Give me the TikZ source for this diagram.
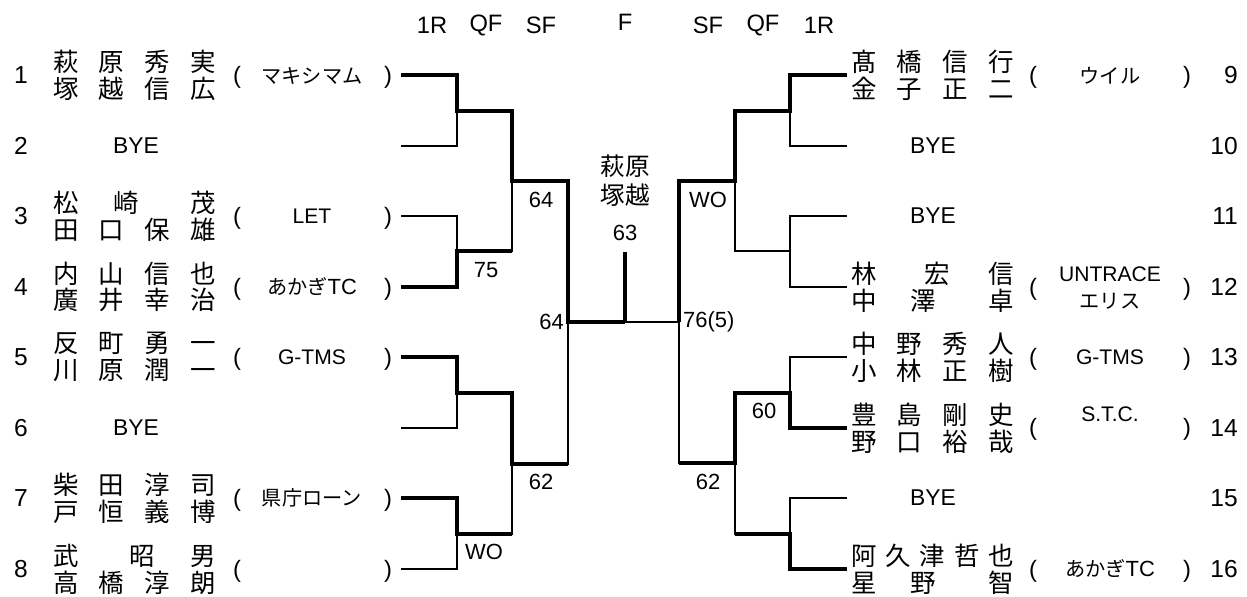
\documentclass[tikz,border=0pt]{standalone}
\usepackage{fontspec}
\setmainfont{Liberation Sans}
\newfontfamily\jp{Noto Sans CJK JP}
\usetikzlibrary{positioning}

\newcommand{\pn}[1]{\makebox[3.26cm][s]{#1}}
\newcommand{\gap}[1]{\hspace{\stretch{#1}}}

\begin{document}
\begin{tikzpicture}[
    x=0.02cm, y=-0.02cm,
    seed/.style={font=\fontsize{14}{16}\selectfont},
    player/.style={font=\jp\fontsize{14.5}{15.3}\selectfont, align=center, inner sep=0pt},
    club/.style={font=\fontsize{12}{15}\selectfont, align=center, inner sep=0pt},
    jclub/.style={font=\jp\fontsize{11.5}{15}\selectfont, align=center, inner sep=0pt},
    paren/.style={font=\fontsize{13.5}{15}\selectfont, inner sep=0pt},
    bye/.style={font=\fontsize{13}{15}\selectfont},
    hdr/.style={font=\fontsize{13.5}{15}\selectfont},
    score/.style={font=\fontsize{12.5}{14}\selectfont, inner sep=1pt},
    lose/.style={line width=0.9pt},
    win/.style={line width=2.3pt},
]
\useasboundingbox (0,0) rectangle (1247,597);

% round headers
\foreach \t/\x [count=\i] in {1R/432, QF/486, SF/541, SF/708, QF/763, 1R/819}
  \node[hdr] (h\i) at (\x,25) {\t};
\node[hdr] (hf) at (625,22) {F};

% seed numbers
\foreach \n/\y in {1/75, 2/146, 3/216, 4/287, 5/357, 6/428, 7/498, 8/569}
  \node[seed] (s\n) at (21,\y) {\n};
\foreach \n/\y in {9/75, 10/146, 11/216, 12/287, 13/357, 14/428, 15/498, 16/569}
  \node[seed, anchor=east] (s\n) at (1244,\y) {\n};

% left players
\node[player] (p1) at (134.5,75)  {\pn{萩\hfill 原\hfill 秀\hfill 実}\\\pn{塚\hfill 越\hfill 信\hfill 広}};
\node[bye]    (p2) at (136,146)   {BYE};
\node[player] (p3) at (134.5,216) {\pn{松\gap{37}崎\gap{54}茂}\\\pn{田\hfill 口\hfill 保\hfill 雄}};
\node[player] (p4) at (134.5,287) {\pn{内\hfill 山\hfill 信\hfill 也}\\\pn{廣\hfill 井\hfill 幸\hfill 治}};
\node[player] (p5) at (134.5,357) {\pn{反\hfill 町\hfill 勇\hfill 一}\\\pn{川\hfill 原\hfill 潤\hfill 一}};
\node[bye]    (p6) at (136,428)   {BYE};
\node[player] (p7) at (134.5,498) {\pn{柴\hfill 田\hfill 淳\hfill 司}\\\pn{戸\hfill 恒\hfill 義\hfill 博}};
\node[player] (p8) at (134.5,569) {\pn{武\gap{54}昭\gap{37}男}\\\pn{高\hfill 橋\hfill 淳\hfill 朗}};

% right players
\node[player] (p9)  at (932.5,75)  {\pn{髙\hfill 橋\hfill 信\hfill 行}\\\pn{金\hfill 子\hfill 正\hfill 二}};
\node[bye]    (p10) at (933,146)   {BYE};
\node[bye]    (p11) at (933,216)   {BYE};
\node[player] (p12) at (932.5,287) {\pn{林\gap{50}宏\gap{41}信}\\\pn{中\gap{36}澤\gap{55}卓}};
\node[player] (p13) at (932.5,357) {\pn{中\hfill 野\hfill 秀\hfill 人}\\\pn{小\hfill 林\hfill 正\hfill 樹}};
\node[player] (p14) at (932.5,428) {\pn{豊\hfill 島\hfill 剛\hfill 史}\\\pn{野\hfill 口\hfill 裕\hfill 哉}};
\node[bye]    (p15) at (933,498)   {BYE};
\node[player] (p16) at (932.5,569) {\pn{阿\hfill 久\hfill 津\hfill 哲\hfill 也}\\\pn{星\gap{36}野\gap{55}智}};

% clubs with brackets
\foreach \n/\y in {1/77, 3/218, 4/289, 5/359, 7/500, 8/571} {
  \node[paren] (l\n) at (237,\y) {(};
  \node[paren] (r\n) at (388,\y) {)};
}
\foreach \n/\y in {9/77, 12/289, 13/359, 14/429, 16/571} {
  \node[paren] (l\n) at (1033,\y) {(};
  \node[paren] (r\n) at (1187,\y) {)};
}
\node[jclub] (c1)  at (312,76)   {マキシマム};
\node[club]  (c3)  at (312,216)  {LET};
\node[jclub] (c4)  at (312,287)  {あかぎ{\rmfamily\fontsize{12.5}{15}\selectfont TC}};
\node[club]  (c5)  at (312,357)  {G-TMS};
\node[jclub] (c7)  at (312,498)  {県庁ローン};
\node[jclub] (c9)  at (1110,76)  {ウイル};
\node[club]  (c12) at (1110,288) {UNTRACE\\{\jp\fontsize{11.5}{15}\selectfont エリス}};
\node[club]  (c13) at (1110,357) {G-TMS};
\node[club]  (c14) at (1110,414) {S.T.C.};
\node[jclub] (c16) at (1110,569) {あかぎ{\rmfamily\fontsize{12.5}{15}\selectfont TC}};

% bracket points
\foreach \n/\y in {1/75, 2/146, 3/216, 4/287, 5/357, 6/428, 7/498, 8/569}
  \coordinate (e\n) at (401,\y);
\foreach \n/\y in {9/75, 10/146, 11/216, 12/287, 13/357, 14/428, 15/498, 16/569}
  \coordinate (e\n) at (847,\y);
\coordinate (a1) at (457,111); \coordinate (a2) at (457,251);
\coordinate (a3) at (457,393); \coordinate (a4) at (457,534);
\coordinate (b1) at (512,181); \coordinate (b2) at (512,464);
\coordinate (c1) at (568,322);
\coordinate (f)  at (625,322); \coordinate (ft) at (625,252);
\coordinate (c2) at (679,322);
\coordinate (b3) at (735,181); \coordinate (b4) at (735,463);
\coordinate (a5) at (790,111); \coordinate (a6) at (790,251);
\coordinate (a7) at (790,393); \coordinate (a8) at (790,534);

% thin frame
\draw[lose] (e1) -| (a1) |- (e2);
\draw[lose] (e3) -| (a2) |- (e4);
\draw[lose] (e5) -| (a3) |- (e6);
\draw[lose] (e7) -| (a4) |- (e8);
\draw[lose] (a1) -| (b1) |- (a2);
\draw[lose] (a3) -| (b2) |- (a4);
\draw[lose] (b1) -| (c1) |- (b2);
\draw[lose] (c1) -- (f) -- (c2);
\draw[lose] (e9) -| (a5) |- (e10);
\draw[lose] (e11) -| (a6) |- (e12);
\draw[lose] (e13) -| (a7) |- (e14);
\draw[lose] (e15) -| (a8) |- (e16);
\draw[lose] (a5) -| (b3) |- (a6);
\draw[lose] (a7) -| (b4) |- (a8);
\draw[lose] (b3) -| (c2) |- (b4);

% winners
\draw[win] (e1) -| (a1) -| (b1) -| (c1) -- (f);
\draw[win] (e4) -| (a2) -- (a2 -| b1);
\draw[win] (e5) -| (a3) -| (b2) -- (b2 -| c1);
\draw[win] (e7) -| (a4) -- (a4 -| b2);
\draw[win] (ft) -- (f);
\draw[win] (e9) -| (a5) -| (b3) -| (c2);
\draw[win] (e14) -| (a7) -| (b4) -- (b4 -| c2);
\draw[win] (e16) -| (a8) -- (a8 -| b4);

% scores
\node[score] (sc1) at (486,270) {75};
\node[score] (sc2) at (541,200) {64};
\node[score] (sc3) at (484,552) {WO};
\node[score] (sc4) at (541,482) {62};
\node[score, anchor=east] (sc5) at (566,322) {64};
\node[score, anchor=west] (sc6) at (681,322) {76(5)};
\node[score] (sc7) at (708,200) {WO};
\node[score] (sc8) at (764,411) {60};
\node[score] (sc9) at (708,482) {62};
\node[player, font=\jp\fontsize{14}{16.5}\selectfont] (champ) at (625,181) {萩原\\塚越};
\node[score] (sc10) at (625,233) {63};

\end{tikzpicture}
\end{document}
